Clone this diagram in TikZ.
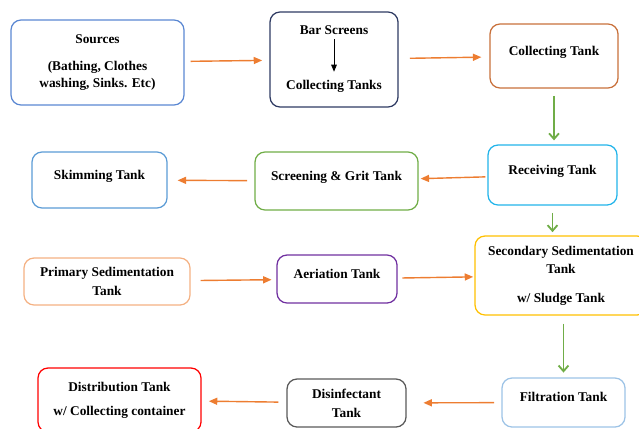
\documentclass[tikz,border=0pt]{standalone}
\usepackage{fontspec}
\setmainfont{Liberation Serif}
\usetikzlibrary{arrows.meta,positioning}
\definecolor{srcblue}{HTML}{5A87D2}
\definecolor{barnavy}{HTML}{2E3A62}
\definecolor{colbrown}{HTML}{C8703A}
\definecolor{recvcyan}{HTML}{22B4EA}
\definecolor{grngrit}{HTML}{70AD47}
\definecolor{skimblue}{HTML}{5B9BD5}
\definecolor{primpeach}{HTML}{F4B183}
\definecolor{aerpurple}{HTML}{7030A0}
\definecolor{secyellow}{HTML}{FFC000}
\definecolor{filtblue}{HTML}{9DC3E6}
\definecolor{disgray}{HTML}{595959}
\definecolor{distred}{HTML}{FF0000}
\definecolor{arrorange}{HTML}{ED7D31}
\definecolor{arrgreen}{HTML}{70AD47}

\begin{document}
\begin{tikzpicture}[
  tank/.style={draw, rounded corners=0.25cm, line width=0.9pt, align=center, inner sep=2pt, font=\fontsize{9.5}{13}\selectfont\bfseries},
  lift/.style={text height=6.5pt, text depth=7.5pt},
  btxt/.style={font=\fontsize{9.5}{13}\selectfont\bfseries},
  flow/.style={-{Triangle[length=6pt,width=5pt]}, line width=1pt, draw=arrorange},
  drop/.style={-{Straight Barb[length=4pt,width=7pt]}, line width=1.3pt, draw=arrgreen}
]
\useasboundingbox (0,0) rectangle (15.975,10.7);
\clip (0,0) rectangle (15.975,10.7);

\node[tank, draw=srcblue, minimum width=4.325cm, minimum height=2.125cm] (src) at (2.4375,9.1375) {Sources\\[6pt](Bathing, Clothes\\[-1pt]washing, Sinks. Etc)};
\node[tank, draw=barnavy, minimum width=3.2cm, minimum height=2.375cm] (bar) at (8.35,9.2125) {};
\node[btxt] (barA) at (8.35,9.95) {Bar Screens};
\node[btxt] (barB) at (8.35,8.55) {Collecting Tanks};
\node[tank, lift, draw=colbrown, minimum width=3.2cm, minimum height=1.6cm] (coll) at (13.85,9.3) {Collecting Tank};
\node[tank, lift, draw=recvcyan, minimum width=3.225cm, minimum height=1.5cm] (recv) at (13.8125,6.325) {Receiving Tank};
\node[tank, lift, draw=grngrit, minimum width=4.075cm, minimum height=1.45cm] (scr) at (8.4125,6.175) {Screening \& Grit Tank};
\node[tank, lift, draw=skimblue, minimum width=3.375cm, minimum height=1.4cm] (skim) at (2.4875,6.2) {Skimming Tank};
\node[tank, draw=primpeach, minimum width=4.15cm, minimum height=1.175cm] (prim) at (2.675,3.6625) {Primary Sedimentation\\[0.5pt]Tank};
\node[tank, lift, draw=aerpurple, minimum width=3.0cm, minimum height=1.2cm] (aer) at (8.425,3.725) {Aeriation Tank};
\node[tank, draw=secyellow, minimum width=4.3cm, minimum height=1.975cm] (sec) at (14.025,3.8125) {Secondary Sedimentation\\Tank\\[7.6pt]w/ Sludge Tank};
\node[tank, lift, draw=filtblue, minimum width=3.075cm, minimum height=1.225cm] (filt) at (14.0875,0.6375) {Filtration Tank};
\node[tank, draw=disgray, minimum width=2.975cm, minimum height=1.2cm] (dis) at (8.6625,0.625) {Disinfectant\\[0.5pt]Tank};
\node[tank, draw=distred, minimum width=4.075cm, minimum height=1.6cm] (dist) at (2.9875,0.7) {Distribution Tank\\[4pt]w/ Collecting container};

\draw[-{Triangle[length=5pt,width=4pt]}, line width=0.6pt, shorten >=0.08cm] (barA) -- (barB);
\draw[flow, shorten <=0.15cm, shorten >=0.18cm] (src) -- (bar);
\draw[flow, shorten <=0.28cm, shorten >=0.2cm] (bar) -- (coll);
\draw[drop, shorten <=0.18cm, shorten >=0.1cm] (coll.south) -- (coll.south |- recv.north);
\draw[flow, shorten <=0.05cm, shorten >=0.05cm] (recv) -- (scr);
\draw[flow, shorten <=0.18cm, shorten >=0.25cm] (scr) -- (skim);
\draw[drop, shorten <=0.18cm, shorten >=0.08cm] (recv.south) -- (recv.south |- sec.north);
\draw[flow, shorten <=0.25cm, shorten >=0.12cm] (prim) -- (aer);
\draw[flow, shorten <=0.12cm, shorten >=0.03cm] (aer) -- (sec);
\draw[drop, shorten <=0.2cm, shorten >=0.12cm] (filt.north |- sec.south) -- (filt.north);
\draw[flow, shorten <=0.18cm, shorten >=0.42cm] (filt) -- (dis);
\draw[flow, shorten <=0.2cm, shorten >=0.18cm] (dis) -- (dist);
\end{tikzpicture}
\end{document}
